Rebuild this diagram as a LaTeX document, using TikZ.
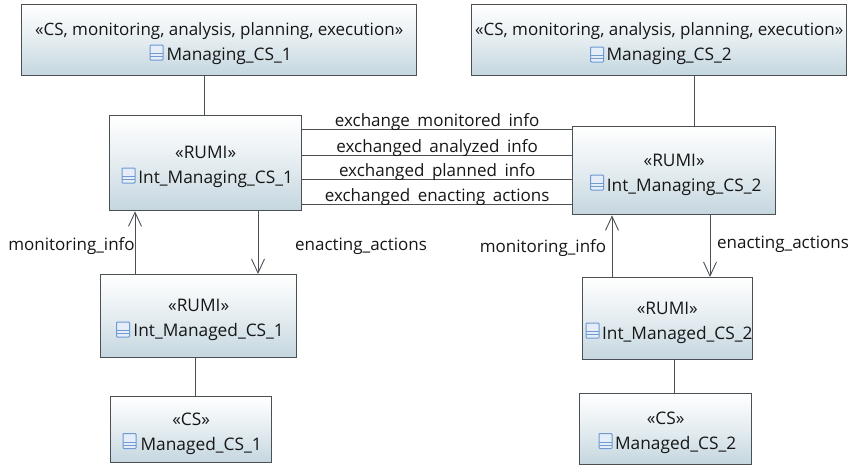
\documentclass[tikz,border=0pt]{standalone}
\usepackage{fontspec}
\setmainfont{Open Sans}
\newfontfamily\lblfamily[WordSpace=1.7]{Open Sans}
\usetikzlibrary{arrows.meta}
\definecolor{boxline}{HTML}{4A5054}
\definecolor{boxlow}{HTML}{C4D6DF}
\definecolor{iconblue}{HTML}{6F9AD2}
\definecolor{iconfill}{HTML}{E4EDF8}
\definecolor{inktext}{HTML}{161616}
\tikzset{
  umlbox/.style={draw=boxline,line width=1.3pt,top color=white,bottom color=boxlow,middle color=white!55!boxlow,
    inner sep=0pt,align=center,anchor=north west,font=\fontsize{17.3}{25}\selectfont,text=inktext},
  link/.style={draw=boxline,line width=.9pt},
  flow/.style={link,-{Straight Barb[length=14pt,width=13pt,line width=.9pt]}},
  linklabel/.style={inner sep=0pt,font=\lblfamily\fontsize{17}{18}\selectfont,text=inktext},
  classicon/.pic={
    \filldraw[draw=iconblue,fill=iconfill,line width=1pt,rounded corners=.8pt] (0,0) rectangle (13,15);
    \draw[iconblue,line width=1pt] (0,8.5) -- (13,8.5) (0,11.5) -- (13,11.5);
  }
}
\newcommand{\namegap}{\hspace{20pt}}
\newcommand{\toprow}{\rule{0pt}{20.5pt}}
\begin{document}
\begin{tikzpicture}[x=1pt,y=-1pt]
\useasboundingbox (0,0) rectangle (850,466);
% boxes
\node[umlbox,minimum width=395pt,minimum height=71pt] (mcsa) at (21,4)
  {\toprow\fontsize{17}{25}\selectfont«CS, monitoring, analysis, planning, execution»\\\namegap Managing\_CS\_1};
\node[umlbox,minimum width=375pt,minimum height=71pt] (mcsb) at (471,4)
  {\toprow\fontsize{17}{25}\selectfont«CS, monitoring, analysis, planning, execution»\\\namegap Managing\_CS\_2};
\node[umlbox,minimum width=192pt,minimum height=95pt] (imga) at (109,115)
  {\toprow«RUMI»\\\namegap Int\_Managing\_CS\_1};
\node[umlbox,minimum width=203pt,minimum height=88pt] (imgb) at (572,126)
  {\toprow«RUMI»\\\namegap Int\_Managing\_CS\_2};
\node[umlbox,minimum width=196pt,minimum height=83pt] (imda) at (100,274)
  {\toprow«RUMI»\\\namegap Int\_Managed\_CS\_1};
\node[umlbox,minimum width=170pt,minimum height=82pt] (imdb) at (581.5,277)
  {\toprow«RUMI»\\\namegap Int\_Managed\_CS\_2};
\node[umlbox,minimum width=161pt,minimum height=66pt] (mda) at (110,396)
  {\toprow«CS»\\\namegap Managed\_CS\_1};
\node[umlbox,minimum width=172pt,minimum height=71pt] (mdb) at (579,393)
  {\toprow«CS»\\\namegap Managed\_CS\_2};
% icons
\pic at (150,45) {classicon};
\pic at (590.5,47) {classicon};
\pic at (122,168) {classicon};
\pic at (590.5,175) {classicon};
\pic at (116.5,322) {classicon};
\pic at (586,323) {classicon};
\pic at (123,433.5) {classicon};
\pic at (599,433.5) {classicon};
% vertical links
\draw[link] (204,0 |- mcsa.south) -- (204,0 |- imga.north);
\draw[link] (694,0 |- mcsb.south) -- (694,0 |- imgb.north);
\draw[link] (195,0 |- imda.south) -- (195,0 |- mda.north);
\draw[link] (674,0 |- imdb.south) -- (674,0 |- mdb.north);
\draw[flow] (135,0 |- imda.north) -- (135,0 |- imga.south);
\draw[flow] (258,0 |- imga.south) -- (258,0 |- imda.north);
\draw[flow] (612,0 |- imdb.north) -- (612,0 |- imgb.south);
\draw[flow] (710,0 |- imgb.south) -- (710,0 |- imdb.north);
% exchange links
\draw[link] (imga.east |- 0,129) -- node[linklabel,above=-2pt] (xa) {exchange monitored info} (imgb.west |- 0,129);
\draw[link] (imga.east |- 0,155) -- node[linklabel,above=-2pt] (xb) {exchanged analyzed info} (imgb.west |- 0,155);
\draw[link] (imga.east |- 0,179) -- node[linklabel,above=-2pt] (xc) {exchanged planned info} (imgb.west |- 0,179);
\draw[link] (imga.east |- 0,204) -- node[linklabel,above=-2pt] (xd) {exchanged enacting actions} (imgb.west |- 0,204);
% flow labels
\node[linklabel] (ma) at (71.5,246) {monitoring\_info};
\node[linklabel] (ea) at (361,246) {enacting\_actions};
\node[linklabel] (mb) at (543,248) {monitoring\_info};
\node[linklabel] (eb) at (783,244) {enacting\_actions};
\end{tikzpicture}
\end{document}
